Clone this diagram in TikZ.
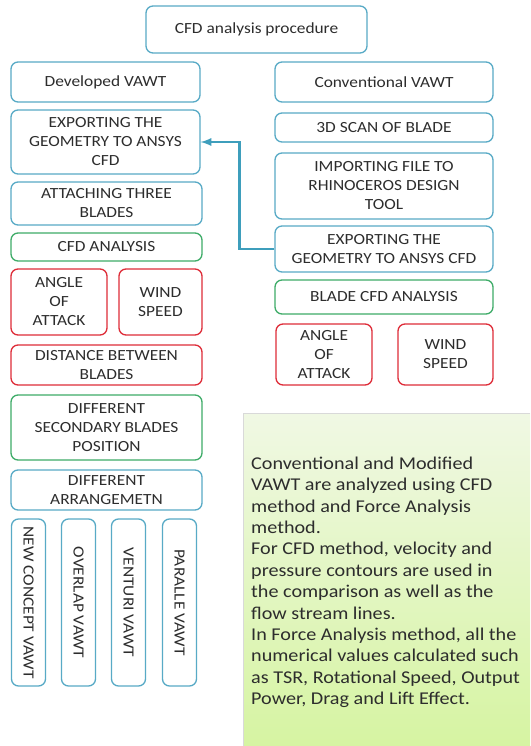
\documentclass[tikz,border=0pt]{standalone}
\usepackage{fontspec}
\setmainfont{Carlito}[FakeStretch=1.12]
\usepackage{tikz}
\usetikzlibrary{arrows,shapes}
\usetikzlibrary{shadings}
\usetikzlibrary{calc}
\definecolor{bluebd}{RGB}{88,170,198}
\definecolor{greenbd}{RGB}{62,172,104}
\definecolor{redbd}{RGB}{222,44,56}
\definecolor{arrowc}{RGB}{62,158,188}
\definecolor{txt}{RGB}{45,45,45}
\definecolor{notetop}{RGB}{240,248,228}
\definecolor{notebot}{RGB}{214,244,162}
\tikzstyle{stepbox}=[rounded corners=7pt,line width=1.3pt,fill=white,align=center,inner sep=1pt,text=txt,font=\fontsize{15.5}{19}\selectfont]
\tikzstyle{bluebox}=[stepbox,draw=bluebd]
\tikzstyle{greenbox}=[stepbox,draw=greenbd]
\tikzstyle{redbox}=[stepbox,draw=redbd]
\tikzstyle{conn} = [draw,line width=2.6pt,arrowc,-latex]

\begin{document}
\begin{tikzpicture}[x=1pt,y=-1pt]
    \useasboundingbox (0,0) rectangle (530,746);
    \fill[white] (0,0) rectangle (530,746);

    % note box on the right
    \shade[top color=notetop,bottom color=notebot] (243,413) rectangle (530,746);
    \draw[black!15,line width=1pt] (243,746) -- (243,413) -- (530,413);
    \node[anchor=north west,inner sep=0pt,align=left,text=txt,font=\fontsize{18}{21.4}\selectfont] (note) at (251,456.5)
        {Conventional and Modified\\VAWT are analyzed using CFD\\method and Force Analysis\\method.\\For CFD method, velocity and\\pressure contours are used in\\the comparison as well as the\\flow stream lines.\\In Force Analysis method, all the\\numerical values calculated such\\as TSR, Rotational Speed, Output\\Power, Drag and Lift Effect.};

    \node[bluebox,minimum width=221pt,minimum height=47pt] (title) at (256.5,29.5) {CFD analysis procedure};

    % left column
    \node[bluebox,minimum width=189pt,minimum height=40pt] (dev) at (105.5,82) {Developed VAWT};
    \node[bluebox,minimum width=189pt,minimum height=64pt] (expL) at (105.5,142) {EXPORTING THE\\GEOMETRY TO ANSYS\\CFD};
    \node[bluebox,minimum width=191pt,minimum height=43pt] (attach) at (106.5,203.5) {ATTACHING THREE\\BLADES};
    \node[greenbox,minimum width=191pt,minimum height=28pt] (cfd) at (106.5,247) {CFD ANALYSIS};
    \node[redbox,minimum width=96pt,minimum height=66pt] (aoaL) at (59,302) {ANGLE\\OF\\ATTACK};
    \node[redbox,minimum width=83pt,minimum height=66pt] (wsL) at (160.5,302) {WIND\\SPEED};
    \node[redbox,minimum width=191pt,minimum height=40pt] (dist) at (106.5,365) {DISTANCE BETWEEN\\BLADES};
    \node[greenbox,minimum width=191pt,minimum height=65pt] (sec) at (106.5,427.5) {DIFFERENT\\SECONDARY BLADES\\POSITION};
    \node[bluebox,minimum width=191pt,minimum height=40pt] (arr) at (106.5,490) {DIFFERENT\\ARRANGEMETN};

    \foreach \pos/ \name/ \label in {{28.5/nc/NEW CONCEPT VAWT},{78.5/ov/OVERLAP VAWT},{128.5/ve/VENTURI VAWT},{179.5/pa/PARALLE VAWT}}
        \node[bluebox,minimum width=167pt,minimum height=34pt,rotate=-90] (\name) at (\pos,602.5) {\label};

    % right column
    \node[bluebox,minimum width=218pt,minimum height=40pt] (conv) at (384,82) {Conventional VAWT};
    \node[bluebox,minimum width=218pt,minimum height=29pt] (scan) at (384,127.5) {3D SCAN OF BLADE};
    \node[bluebox,minimum width=218pt,minimum height=66pt] (imp) at (384,186) {IMPORTING FILE TO\\RHINOCEROS DESIGN\\TOOL};
    \node[bluebox,minimum width=218pt,minimum height=46pt] (expR) at (384,249) {EXPORTING THE\\GEOMETRY TO ANSYS CFD};
    \node[greenbox,minimum width=218pt,minimum height=34pt] (bcfd) at (384,297) {BLADE CFD ANALYSIS};
    \node[redbox,minimum width=96pt,minimum height=61pt] (aoaR) at (324,354.5) {ANGLE\\OF\\ATTACK};
    \node[redbox,minimum width=95pt,minimum height=61pt] (wsR) at (445.5,354.5) {WIND\\SPEED};

    % link between the two export steps
    \path[conn] (expR.west) -- ++(-35,0) |- (expL.east);

\end{tikzpicture}
\end{document}
